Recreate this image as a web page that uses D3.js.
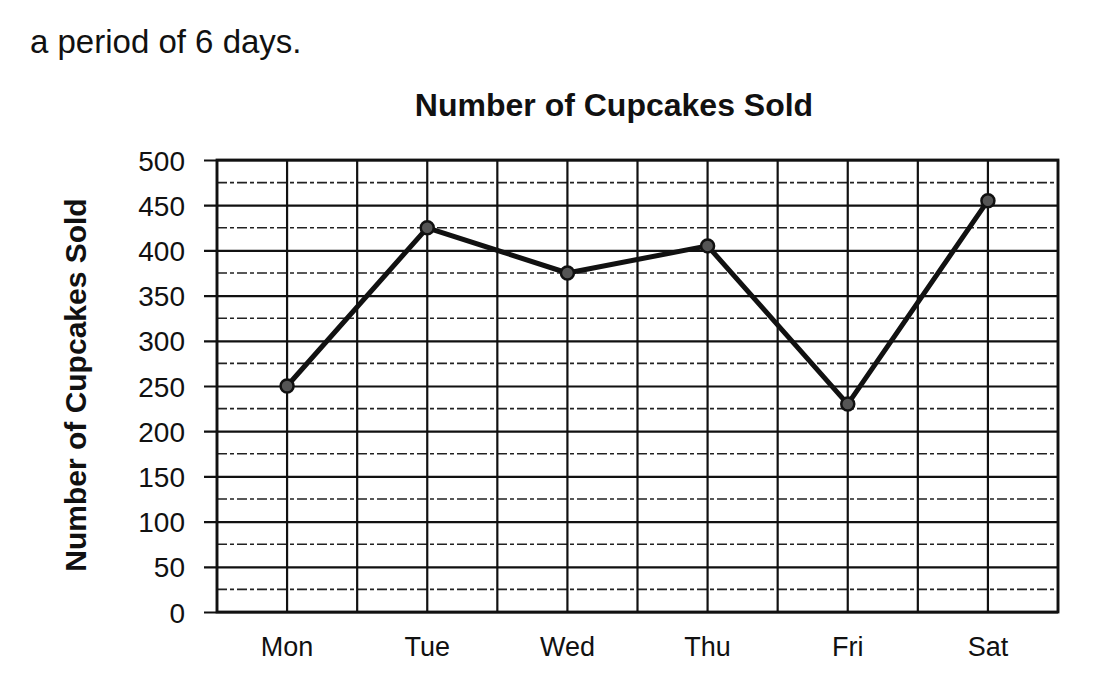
<!DOCTYPE html>
<html>
<head>
<meta charset="utf-8">
<script src="https://cdn.jsdelivr.net/npm/d3@7.9.0/dist/d3.min.js"></script>
<style>
  body { margin: 0; background: #fff; }
  svg { display: block; font-family: Arial, "Liberation Sans", sans-serif; }
</style>
</head>
<body>
<svg width="1097" height="687"></svg>
<script>
// values
const days = ['Mon', 'Tue', 'Wed', 'Thu', 'Fri', 'Sat'];
const cupcakes = [250, 425, 375, 405, 230, 455];
const yTicks = [0, 50, 100, 150, 200, 250, 300, 350, 400, 450, 500];
const minorTicks = [25, 75, 125, 175, 225, 275, 325, 375, 425, 475];

const svg = d3.select('svg');
const plotLeft = 217, plotRight = 1058, plotTop = 160, plotBottom = 612;

let x = d3.scaleBand().domain(days).range([plotLeft, plotRight]).padding(0);
let y = d3.scaleLinear().domain([0, 500]).range([plotBottom, plotTop]);

// intro text
svg.append('text')
  .attr('x', 30).attr('y', 53)
  .attr('font-size', 33)
  .attr('fill', '#111')
  .text('a period of 6 days.');

// title
svg.append('text')
  .attr('x', 614).attr('y', 116)
  .attr('text-anchor', 'middle')
  .attr('font-size', 32)
  .attr('font-weight', 'bold')
  .attr('fill', '#111')
  .text('Number of Cupcakes Sold');

// y label
svg.append('text')
  .attr('transform', `translate(86,385) rotate(-90)`)
  .attr('text-anchor', 'middle')
  .attr('font-size', 30)
  .attr('font-weight', 'bold')
  .attr('fill', '#111')
  .text('Number of Cupcakes Sold');

// minor dashed gridlines
svg.append('g').selectAll('line')
  .data(minorTicks)
  .join('line')
  .attr('x1', plotLeft).attr('x2', plotRight)
  .attr('y1', d => y(d)).attr('y2', d => y(d))
  .attr('stroke', '#222')
  .attr('stroke-width', 1.6)
  .attr('stroke-dasharray', '10,3,4,3');

// major gridlines + ticks, via axis
let yAxis = d3.axisLeft(y).tickValues(yTicks).tickSize(-(plotRight - plotLeft)).tickSizeOuter(0).tickPadding(32);
let gy = svg.append('g').attr('transform', `translate(${plotLeft},0)`).call(yAxis);
gy.select('.domain').remove();
gy.selectAll('.tick line')
  .attr('x1', -13)
  .attr('stroke', '#111')
  .attr('stroke-width', 2.2);
gy.selectAll('.tick text')
  .attr('font-size', 28)
  .attr('fill', '#111')
  .attr('dy', '0.36em');

// vertical gridlines: band edges and band centres
let vLines = [];
days.forEach(d => { vLines.push(x(d)); vLines.push(x(d) + x.bandwidth() / 2); });
vLines.push(plotRight);
svg.append('g').selectAll('line')
  .data(vLines)
  .join('line')
  .attr('x1', d => d).attr('x2', d => d)
  .attr('y1', plotTop).attr('y2', plotBottom)
  .attr('stroke', '#111')
  .attr('stroke-width', 2.2);

// border
svg.append('rect')
  .attr('x', plotLeft).attr('y', plotTop)
  .attr('width', plotRight - plotLeft).attr('height', plotBottom - plotTop)
  .attr('fill', 'none')
  .attr('stroke', '#111')
  .attr('stroke-width', 2.8);

// x axis labels
let xAxis = d3.axisBottom(x).tickSize(0).tickPadding(0);
let gx = svg.append('g').attr('transform', `translate(0,${plotBottom})`).call(xAxis);
gx.select('.domain').remove();
gx.selectAll('.tick text')
  .attr('y', 44)
  .attr('dy', 0)
  .attr('font-size', 27)
  .attr('fill', '#111');

// the line
let cx = d => x(d) + x.bandwidth() / 2;
let line = d3.line()
  .x((d, i) => cx(days[i]))
  .y(d => y(d));

svg.append('path')
  .datum(cupcakes)
  .attr('d', line)
  .attr('fill', 'none')
  .attr('stroke', '#111')
  .attr('stroke-width', 5)
  .attr('stroke-linejoin', 'round');

svg.append('g').selectAll('circle')
  .data(cupcakes)
  .join('circle')
  .attr('cx', (d, i) => cx(days[i]))
  .attr('cy', d => y(d))
  .attr('r', 6.5)
  .attr('fill', '#555')
  .attr('stroke', '#111')
  .attr('stroke-width', 2.5);
</script>
</body>
</html>
